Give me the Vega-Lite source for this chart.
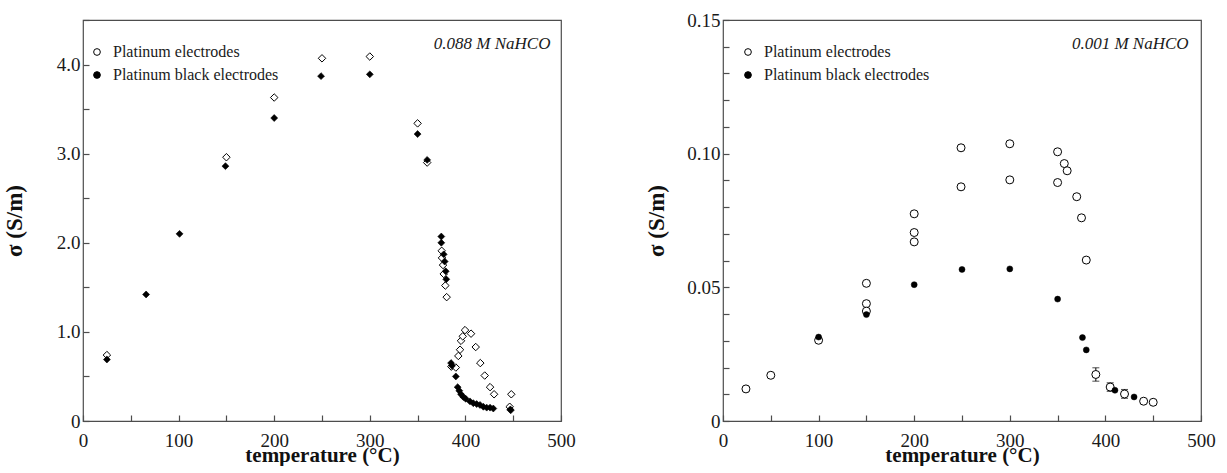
{
  "$schema": "https://vega.github.io/schema/vega-lite/v6.json",
  "background": "white",
  "padding": {"left": 2, "top": 10, "right": 0, "bottom": 0},
  "spacing": 69,
  "resolve": {"scale": {"fill": "independent"}, "legend": {"fill": "independent"}},
  "datasets": {
    "hco3_0088": [
      {"temperature": 25, "sigma": 0.74, "series": "Platinum electrodes"},
      {"temperature": 150, "sigma": 2.96, "series": "Platinum electrodes"},
      {"temperature": 200, "sigma": 3.63, "series": "Platinum electrodes"},
      {"temperature": 250, "sigma": 4.07, "series": "Platinum electrodes"},
      {"temperature": 300, "sigma": 4.09, "series": "Platinum electrodes"},
      {"temperature": 350, "sigma": 3.34, "series": "Platinum electrodes"},
      {"temperature": 360, "sigma": 2.90, "series": "Platinum electrodes"},
      {"temperature": 375.2, "sigma": 1.91, "series": "Platinum electrodes"},
      {"temperature": 375.5, "sigma": 1.83, "series": "Platinum electrodes"},
      {"temperature": 376.6, "sigma": 1.75, "series": "Platinum electrodes"},
      {"temperature": 377.3, "sigma": 1.65, "series": "Platinum electrodes"},
      {"temperature": 379.0, "sigma": 1.52, "series": "Platinum electrodes"},
      {"temperature": 380.4, "sigma": 1.39, "series": "Platinum electrodes"},
      {"temperature": 385.3, "sigma": 0.61, "series": "Platinum electrodes"},
      {"temperature": 390.0, "sigma": 0.60, "series": "Platinum electrodes"},
      {"temperature": 392.6, "sigma": 0.73, "series": "Platinum electrodes"},
      {"temperature": 394.4, "sigma": 0.80, "series": "Platinum electrodes"},
      {"temperature": 395.4, "sigma": 0.90, "series": "Platinum electrodes"},
      {"temperature": 397.2, "sigma": 0.95, "series": "Platinum electrodes"},
      {"temperature": 399.6, "sigma": 1.02, "series": "Platinum electrodes"},
      {"temperature": 405.9, "sigma": 0.98, "series": "Platinum electrodes"},
      {"temperature": 410.8, "sigma": 0.83, "series": "Platinum electrodes"},
      {"temperature": 415.6, "sigma": 0.65, "series": "Platinum electrodes"},
      {"temperature": 420.2, "sigma": 0.51, "series": "Platinum electrodes"},
      {"temperature": 425.8, "sigma": 0.38, "series": "Platinum electrodes"},
      {"temperature": 430.0, "sigma": 0.30, "series": "Platinum electrodes"},
      {"temperature": 448.0, "sigma": 0.30, "series": "Platinum electrodes"},
      {"temperature": 446.3, "sigma": 0.16, "series": "Platinum electrodes"},
      {"temperature": 25, "sigma": 0.69, "series": "Platinum black electrodes"},
      {"temperature": 66, "sigma": 1.42, "series": "Platinum black electrodes"},
      {"temperature": 101, "sigma": 2.10, "series": "Platinum black electrodes"},
      {"temperature": 149, "sigma": 2.86, "series": "Platinum black electrodes"},
      {"temperature": 200, "sigma": 3.40, "series": "Platinum black electrodes"},
      {"temperature": 249, "sigma": 3.87, "series": "Platinum black electrodes"},
      {"temperature": 300, "sigma": 3.89, "series": "Platinum black electrodes"},
      {"temperature": 350, "sigma": 3.22, "series": "Platinum black electrodes"},
      {"temperature": 360, "sigma": 2.93, "series": "Platinum black electrodes"},
      {"temperature": 374.8, "sigma": 2.07, "series": "Platinum black electrodes"},
      {"temperature": 374.8, "sigma": 2.00, "series": "Platinum black electrodes"},
      {"temperature": 377.3, "sigma": 1.87, "series": "Platinum black electrodes"},
      {"temperature": 378.3, "sigma": 1.79, "series": "Platinum black electrodes"},
      {"temperature": 379.4, "sigma": 1.68, "series": "Platinum black electrodes"},
      {"temperature": 380.0, "sigma": 1.59, "series": "Platinum black electrodes"},
      {"temperature": 385.0, "sigma": 0.65, "series": "Platinum black electrodes"},
      {"temperature": 386.0, "sigma": 0.62, "series": "Platinum black electrodes"},
      {"temperature": 390.0, "sigma": 0.50, "series": "Platinum black electrodes"},
      {"temperature": 391.9, "sigma": 0.38, "series": "Platinum black electrodes"},
      {"temperature": 393.6, "sigma": 0.34, "series": "Platinum black electrodes"},
      {"temperature": 395.4, "sigma": 0.30, "series": "Platinum black electrodes"},
      {"temperature": 397.8, "sigma": 0.27, "series": "Platinum black electrodes"},
      {"temperature": 400.3, "sigma": 0.25, "series": "Platinum black electrodes"},
      {"temperature": 404.8, "sigma": 0.22, "series": "Platinum black electrodes"},
      {"temperature": 408.3, "sigma": 0.20, "series": "Platinum black electrodes"},
      {"temperature": 411.8, "sigma": 0.19, "series": "Platinum black electrodes"},
      {"temperature": 415.3, "sigma": 0.18, "series": "Platinum black electrodes"},
      {"temperature": 418.8, "sigma": 0.16, "series": "Platinum black electrodes"},
      {"temperature": 422.3, "sigma": 0.15, "series": "Platinum black electrodes"},
      {"temperature": 425.8, "sigma": 0.15, "series": "Platinum black electrodes"},
      {"temperature": 429.2, "sigma": 0.14, "series": "Platinum black electrodes"},
      {"temperature": 447.0, "sigma": 0.13, "series": "Platinum black electrodes"},
      {"temperature": 447.4, "sigma": 0.12, "series": "Platinum black electrodes"}
    ],
    "hco3_0001": [
      {"temperature": 24, "sigma": 0.0120, "series": "Platinum electrodes"},
      {"temperature": 50, "sigma": 0.0171, "series": "Platinum electrodes"},
      {"temperature": 100, "sigma": 0.0302, "series": "Platinum electrodes"},
      {"temperature": 150, "sigma": 0.0515, "series": "Platinum electrodes"},
      {"temperature": 150, "sigma": 0.0439, "series": "Platinum electrodes"},
      {"temperature": 150, "sigma": 0.0411, "series": "Platinum electrodes"},
      {"temperature": 200, "sigma": 0.0775, "series": "Platinum electrodes"},
      {"temperature": 200, "sigma": 0.0705, "series": "Platinum electrodes"},
      {"temperature": 200, "sigma": 0.0670, "series": "Platinum electrodes"},
      {"temperature": 249, "sigma": 0.1022, "series": "Platinum electrodes"},
      {"temperature": 249, "sigma": 0.0876, "series": "Platinum electrodes"},
      {"temperature": 300, "sigma": 0.1037, "series": "Platinum electrodes"},
      {"temperature": 300, "sigma": 0.0902, "series": "Platinum electrodes"},
      {"temperature": 350, "sigma": 0.1007, "series": "Platinum electrodes"},
      {"temperature": 350, "sigma": 0.0892, "series": "Platinum electrodes"},
      {"temperature": 357, "sigma": 0.0963, "series": "Platinum electrodes"},
      {"temperature": 360, "sigma": 0.0936, "series": "Platinum electrodes"},
      {"temperature": 370, "sigma": 0.0839, "series": "Platinum electrodes"},
      {"temperature": 375, "sigma": 0.0760, "series": "Platinum electrodes"},
      {"temperature": 380, "sigma": 0.0602, "series": "Platinum electrodes"},
      {"temperature": 390, "sigma": 0.0174, "lo": 0.0149, "hi": 0.0199, "series": "Platinum electrodes"},
      {"temperature": 405, "sigma": 0.0127, "lo": 0.0111, "hi": 0.0143, "series": "Platinum electrodes"},
      {"temperature": 420, "sigma": 0.0101, "lo": 0.0085, "hi": 0.0118, "series": "Platinum electrodes"},
      {"temperature": 440, "sigma": 0.0074, "series": "Platinum electrodes"},
      {"temperature": 450, "sigma": 0.0070, "series": "Platinum electrodes"},
      {"temperature": 100, "sigma": 0.0314, "series": "Platinum black electrodes"},
      {"temperature": 150, "sigma": 0.0398, "series": "Platinum black electrodes"},
      {"temperature": 200, "sigma": 0.0510, "series": "Platinum black electrodes"},
      {"temperature": 250, "sigma": 0.0567, "series": "Platinum black electrodes"},
      {"temperature": 300, "sigma": 0.0569, "series": "Platinum black electrodes"},
      {"temperature": 350, "sigma": 0.0456, "series": "Platinum black electrodes"},
      {"temperature": 376, "sigma": 0.0312, "series": "Platinum black electrodes"},
      {"temperature": 380, "sigma": 0.0266, "series": "Platinum black electrodes"},
      {"temperature": 410, "sigma": 0.0115, "series": "Platinum black electrodes"},
      {"temperature": 430, "sigma": 0.0090, "series": "Platinum black electrodes"}
    ],
    "notes": [
      {"panel": "left", "note": "0.088 M NaHCO"},
      {"panel": "right", "note": "0.001 M NaHCO"}
    ]
  },
  "config": {
    "font": "Liberation Serif",
    "view": {"stroke": "#4d4d4d", "strokeWidth": 1.2},
    "axis": {
      "domain": false,
      "grid": false,
      "ticks": true,
      "tickColor": "#4d4d4d",
      "tickWidth": 1.2,
      "tickSize": -6,
      "labelFont": "Liberation Serif",
      "labelFontSize": 19,
      "labelColor": "#1a1a1a",
      "labelFlush": false,
      "labelOverlap": false,
      "titleFont": "Liberation Serif",
      "titleFontSize": 21,
      "titleFontWeight": "bold",
      "titleColor": "#111111"
    },
    "axisX": {"labelPadding": 16, "titlePadding": -6},
    "axisY": {"labelPadding": 9, "titleFontSize": 23},
    "legend": {
      "labelFont": "Liberation Serif",
      "labelFontSize": 16,
      "labelColor": "#1a1a1a",
      "labelLimit": 400
    }
  },
  "hconcat": [
    {
      "width": 478,
      "height": 401,
      "layer": [
        {
          "data": {"name": "hco3_0088"},
          "transform": [{"filter": "datum.series === 'Platinum electrodes'"}],
          "mark": {"type": "point", "shape": "diamond", "filled": true, "stroke": "black", "strokeWidth": 1, "opacity": 1, "size": 56},
          "encoding": {
            "x": {
              "field": "temperature", "type": "quantitative",
              "scale": {"domain": [0, 500], "nice": false},
              "axis": {"title": "temperature (°C)", "tickCount": 10, "labelExpr": "datum.value % 100 === 0 ? datum.label : ''"}
            },
            "y": {
              "field": "sigma", "type": "quantitative",
              "scale": {"domain": [0, 4.5], "nice": false},
              "axis": {"title": "σ (S/m)", "titlePadding": 30, "tickCount": 9, "labelExpr": "datum.value % 1 === 0 ? (datum.value === 0 ? '0' : format(datum.value, '.1f')) : ''"}
            },
            "fill": {
              "field": "series", "type": "nominal",
              "scale": {"domain": ["Platinum electrodes", "Platinum black electrodes"], "range": ["white", "black"]},
              "legend": {
                "orient": "none", "legendX": 6, "legendY": 24, "title": null,
                "symbolType": "circle", "symbolSize": 45,
                "symbolStrokeColor": "black", "symbolStrokeWidth": 1,
                "labelOffset": 8, "rowPadding": 7
              }
            }
          }
        },
        {
          "data": {"name": "hco3_0088"},
          "transform": [{"filter": "datum.series === 'Platinum black electrodes'"}],
          "mark": {"type": "point", "shape": "diamond", "filled": true, "stroke": "black", "strokeWidth": 0.6, "opacity": 1, "size": 48},
          "encoding": {
            "x": {
              "field": "temperature", "type": "quantitative",
              "scale": {"domain": [0, 500], "nice": false},
              "axis": {"title": "temperature (°C)", "tickCount": 10, "labelExpr": "datum.value % 100 === 0 ? datum.label : ''"}
            },
            "y": {
              "field": "sigma", "type": "quantitative",
              "scale": {"domain": [0, 4.5], "nice": false},
              "axis": {"title": "σ (S/m)", "titlePadding": 30, "tickCount": 9, "labelExpr": "datum.value % 1 === 0 ? (datum.value === 0 ? '0' : format(datum.value, '.1f')) : ''"}
            },
            "fill": {"field": "series", "type": "nominal"}
          }
        },
        {
          "data": {"name": "notes"},
          "transform": [{"filter": "datum.panel === 'left'"}],
          "mark": {"type": "text", "align": "right", "baseline": "middle", "font": "Liberation Serif", "fontStyle": "italic", "fontSize": 17, "color": "#1a1a1a"},
          "encoding": {
            "x": {"datum": 489, "type": "quantitative"},
            "y": {"datum": 4.23, "type": "quantitative"},
            "text": {"field": "note"}
          }
        }
      ]
    },
    {
      "width": 478,
      "height": 401,
      "layer": [
        {
          "data": {"name": "hco3_0001"},
          "transform": [{"filter": "isValid(datum.lo)"}],
          "mark": {"type": "rule", "color": "black", "strokeWidth": 1},
          "encoding": {
            "x": {
              "field": "temperature", "type": "quantitative",
              "scale": {"domain": [0, 500], "nice": false},
              "axis": {"title": "temperature (°C)", "tickCount": 10, "labelExpr": "datum.value % 100 === 0 ? datum.label : ''"}
            },
            "y": {
              "field": "lo", "type": "quantitative",
              "scale": {"domain": [0, 0.15], "nice": false},
              "axis": {"title": "σ (S/m)", "titlePadding": 18, "tickCount": 15, "labelExpr": "round(datum.value * 1000) % 50 === 0 ? (datum.value === 0 ? '0' : format(datum.value, '.2f')) : ''"}
            },
            "y2": {"field": "hi"}
          }
        },
        {
          "data": {"name": "hco3_0001"},
          "transform": [{"filter": "isValid(datum.lo)"}],
          "mark": {"type": "tick", "orient": "horizontal", "color": "black", "size": 7, "thickness": 1},
          "encoding": {
            "x": {
              "field": "temperature", "type": "quantitative",
              "scale": {"domain": [0, 500], "nice": false},
              "axis": {"title": "temperature (°C)", "tickCount": 10, "labelExpr": "datum.value % 100 === 0 ? datum.label : ''"}
            },
            "y": {
              "field": "lo", "type": "quantitative",
              "scale": {"domain": [0, 0.15], "nice": false},
              "axis": {"title": "σ (S/m)", "titlePadding": 18, "tickCount": 15, "labelExpr": "round(datum.value * 1000) % 50 === 0 ? (datum.value === 0 ? '0' : format(datum.value, '.2f')) : ''"}
            }
          }
        },
        {
          "data": {"name": "hco3_0001"},
          "transform": [{"filter": "isValid(datum.hi)"}],
          "mark": {"type": "tick", "orient": "horizontal", "color": "black", "size": 7, "thickness": 1},
          "encoding": {
            "x": {
              "field": "temperature", "type": "quantitative",
              "scale": {"domain": [0, 500], "nice": false},
              "axis": {"title": "temperature (°C)", "tickCount": 10, "labelExpr": "datum.value % 100 === 0 ? datum.label : ''"}
            },
            "y": {
              "field": "hi", "type": "quantitative",
              "scale": {"domain": [0, 0.15], "nice": false},
              "axis": {"title": "σ (S/m)", "titlePadding": 18, "tickCount": 15, "labelExpr": "round(datum.value * 1000) % 50 === 0 ? (datum.value === 0 ? '0' : format(datum.value, '.2f')) : ''"}
            }
          }
        },
        {
          "data": {"name": "hco3_0001"},
          "transform": [{"filter": "datum.series === 'Platinum electrodes'"}],
          "mark": {"type": "point", "shape": "circle", "filled": true, "stroke": "black", "strokeWidth": 1, "opacity": 1, "size": 64},
          "encoding": {
            "x": {
              "field": "temperature", "type": "quantitative",
              "scale": {"domain": [0, 500], "nice": false},
              "axis": {"title": "temperature (°C)", "tickCount": 10, "labelExpr": "datum.value % 100 === 0 ? datum.label : ''"}
            },
            "y": {
              "field": "sigma", "type": "quantitative",
              "scale": {"domain": [0, 0.15], "nice": false},
              "axis": {"title": "σ (S/m)", "titlePadding": 18, "tickCount": 15, "labelExpr": "round(datum.value * 1000) % 50 === 0 ? (datum.value === 0 ? '0' : format(datum.value, '.2f')) : ''"}
            },
            "fill": {
              "field": "series", "type": "nominal",
              "scale": {"domain": ["Platinum electrodes", "Platinum black electrodes"], "range": ["white", "black"]},
              "legend": {
                "orient": "none", "legendX": 17, "legendY": 24, "title": null,
                "symbolType": "circle", "symbolSize": 45,
                "symbolStrokeColor": "black", "symbolStrokeWidth": 1,
                "labelOffset": 8, "rowPadding": 7
              }
            }
          }
        },
        {
          "data": {"name": "hco3_0001"},
          "transform": [{"filter": "datum.series === 'Platinum black electrodes'"}],
          "mark": {"type": "point", "shape": "circle", "filled": true, "stroke": "black", "strokeWidth": 0.5, "opacity": 1, "size": 36},
          "encoding": {
            "x": {
              "field": "temperature", "type": "quantitative",
              "scale": {"domain": [0, 500], "nice": false},
              "axis": {"title": "temperature (°C)", "tickCount": 10, "labelExpr": "datum.value % 100 === 0 ? datum.label : ''"}
            },
            "y": {
              "field": "sigma", "type": "quantitative",
              "scale": {"domain": [0, 0.15], "nice": false},
              "axis": {"title": "σ (S/m)", "titlePadding": 18, "tickCount": 15, "labelExpr": "round(datum.value * 1000) % 50 === 0 ? (datum.value === 0 ? '0' : format(datum.value, '.2f')) : ''"}
            },
            "fill": {"field": "series", "type": "nominal"}
          }
        },
        {
          "data": {"name": "notes"},
          "transform": [{"filter": "datum.panel === 'right'"}],
          "mark": {"type": "text", "align": "right", "baseline": "middle", "font": "Liberation Serif", "fontStyle": "italic", "fontSize": 17, "color": "#1a1a1a"},
          "encoding": {
            "x": {"datum": 487, "type": "quantitative"},
            "y": {"datum": 0.141, "type": "quantitative"},
            "text": {"field": "note"}
          }
        }
      ]
    }
  ]
}
